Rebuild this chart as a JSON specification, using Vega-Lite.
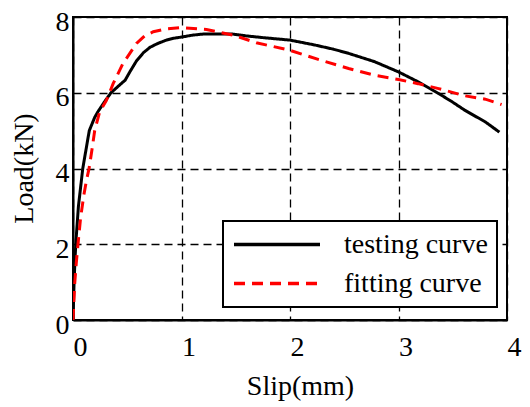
{
  "$schema": "https://vega.github.io/schema/vega-lite/v6.json",
  "width": 434,
  "height": 303,
  "autosize": {"type": "none"},
  "padding": {"left": 73, "top": 17, "right": 23, "bottom": 87},
  "background": "white",
  "data": {
    "values": [
      {"curve": "testing curve", "slip": 0, "load": 0},
      {"curve": "testing curve", "slip": 0.01, "load": 1.0},
      {"curve": "testing curve", "slip": 0.02, "load": 1.7},
      {"curve": "testing curve", "slip": 0.03, "load": 2.2},
      {"curve": "testing curve", "slip": 0.05, "load": 3.0},
      {"curve": "testing curve", "slip": 0.07, "load": 3.5},
      {"curve": "testing curve", "slip": 0.09, "load": 4.0},
      {"curve": "testing curve", "slip": 0.12, "load": 4.5},
      {"curve": "testing curve", "slip": 0.15, "load": 5.0},
      {"curve": "testing curve", "slip": 0.2, "load": 5.35},
      {"curve": "testing curve", "slip": 0.23, "load": 5.5},
      {"curve": "testing curve", "slip": 0.3, "load": 5.8},
      {"curve": "testing curve", "slip": 0.35, "load": 6.0},
      {"curve": "testing curve", "slip": 0.42, "load": 6.18},
      {"curve": "testing curve", "slip": 0.48, "load": 6.33},
      {"curve": "testing curve", "slip": 0.53, "load": 6.58},
      {"curve": "testing curve", "slip": 0.585, "load": 6.84},
      {"curve": "testing curve", "slip": 0.65, "load": 7.06},
      {"curve": "testing curve", "slip": 0.71, "load": 7.2},
      {"curve": "testing curve", "slip": 0.78, "load": 7.3},
      {"curve": "testing curve", "slip": 0.86, "load": 7.39},
      {"curve": "testing curve", "slip": 0.93, "load": 7.44},
      {"curve": "testing curve", "slip": 1.0, "load": 7.47},
      {"curve": "testing curve", "slip": 1.1, "load": 7.52},
      {"curve": "testing curve", "slip": 1.2, "load": 7.55},
      {"curve": "testing curve", "slip": 1.35, "load": 7.55},
      {"curve": "testing curve", "slip": 1.47, "load": 7.55},
      {"curve": "testing curve", "slip": 1.6, "load": 7.5},
      {"curve": "testing curve", "slip": 1.77, "load": 7.45},
      {"curve": "testing curve", "slip": 2.0, "load": 7.39},
      {"curve": "testing curve", "slip": 2.23, "load": 7.26},
      {"curve": "testing curve", "slip": 2.4, "load": 7.15},
      {"curve": "testing curve", "slip": 2.54, "load": 7.04},
      {"curve": "testing curve", "slip": 2.78, "load": 6.82},
      {"curve": "testing curve", "slip": 3.0, "load": 6.55},
      {"curve": "testing curve", "slip": 3.18, "load": 6.29},
      {"curve": "testing curve", "slip": 3.37, "load": 5.98},
      {"curve": "testing curve", "slip": 3.5, "load": 5.75},
      {"curve": "testing curve", "slip": 3.61, "load": 5.54},
      {"curve": "testing curve", "slip": 3.8, "load": 5.23},
      {"curve": "testing curve", "slip": 3.93, "load": 4.96},
      {"curve": "fitting curve", "slip": 0, "load": 0},
      {"curve": "fitting curve", "slip": 0.016, "load": 0.97},
      {"curve": "fitting curve", "slip": 0.03, "load": 1.5},
      {"curve": "fitting curve", "slip": 0.046, "load": 2.0},
      {"curve": "fitting curve", "slip": 0.07, "load": 2.7},
      {"curve": "fitting curve", "slip": 0.1, "load": 3.3},
      {"curve": "fitting curve", "slip": 0.125, "load": 3.7},
      {"curve": "fitting curve", "slip": 0.148, "load": 4.0},
      {"curve": "fitting curve", "slip": 0.175, "load": 4.5},
      {"curve": "fitting curve", "slip": 0.2, "load": 5.0},
      {"curve": "fitting curve", "slip": 0.246, "load": 5.5},
      {"curve": "fitting curve", "slip": 0.308, "load": 5.8},
      {"curve": "fitting curve", "slip": 0.37, "load": 6.24},
      {"curve": "fitting curve", "slip": 0.46, "load": 6.77},
      {"curve": "fitting curve", "slip": 0.585, "load": 7.3},
      {"curve": "fitting curve", "slip": 0.66, "load": 7.5},
      {"curve": "fitting curve", "slip": 0.74, "load": 7.61},
      {"curve": "fitting curve", "slip": 0.85, "load": 7.68},
      {"curve": "fitting curve", "slip": 1.0, "load": 7.72},
      {"curve": "fitting curve", "slip": 1.23, "load": 7.67},
      {"curve": "fitting curve", "slip": 1.48, "load": 7.52},
      {"curve": "fitting curve", "slip": 1.69, "load": 7.32},
      {"curve": "fitting curve", "slip": 2.0, "load": 7.12},
      {"curve": "fitting curve", "slip": 2.26, "load": 6.88},
      {"curve": "fitting curve", "slip": 2.54, "load": 6.64},
      {"curve": "fitting curve", "slip": 2.78, "load": 6.46},
      {"curve": "fitting curve", "slip": 3.0, "load": 6.35},
      {"curve": "fitting curve", "slip": 3.18, "load": 6.24},
      {"curve": "fitting curve", "slip": 3.37, "load": 6.11},
      {"curve": "fitting curve", "slip": 3.61, "load": 5.92},
      {"curve": "fitting curve", "slip": 3.8, "load": 5.83},
      {"curve": "fitting curve", "slip": 3.95, "load": 5.69}
    ]
  },
  "mark": {"type": "line", "strokeWidth": 3, "clip": true},
  "encoding": {
    "x": {
      "field": "slip",
      "type": "quantitative",
      "title": "Slip(mm)",
      "scale": {"domain": [0, 4], "nice": false, "zero": false},
      "axis": {
        "values": [0, 1, 2, 3, 4],
        "labelOffset": 7,
        "labelPadding": 13,
        "titleX": 227,
        "titleY": 74,
        "titleBaseline": "alphabetic"
      }
    },
    "y": {
      "field": "load",
      "type": "quantitative",
      "title": "Load(kN)",
      "scale": {"domain": [0, 8], "nice": false},
      "axis": {
        "values": [0, 2, 4, 6, 8],
        "labelOffset": 5,
        "labelPadding": 4,
        "labelBaseline": "middle",
        "titleX": -41,
        "titleY": 151,
        "titleAngle": 270,
        "titleBaseline": "alphabetic"
      }
    },
    "color": {
      "field": "curve",
      "type": "nominal",
      "title": null,
      "scale": {"domain": ["testing curve", "fitting curve"], "range": ["#000000", "#ff0000"]}
    },
    "strokeDash": {
      "field": "curve",
      "type": "nominal",
      "title": null,
      "scale": {"domain": ["testing curve", "fitting curve"], "range": [[1, 0], [11, 7]]}
    }
  },
  "config": {
    "view": {"stroke": "#000000", "strokeWidth": 2},
    "axis": {
      "labelFont": "Liberation Serif",
      "labelFontSize": 28,
      "labelColor": "#000000",
      "labelFlush": false,
      "labelOverlap": false,
      "titleFont": "Liberation Serif",
      "titleFontSize": 28,
      "titleFontWeight": "normal",
      "titleColor": "#000000",
      "domainColor": "#000000",
      "domainWidth": 2,
      "ticks": false,
      "grid": true,
      "gridColor": "#000000",
      "gridWidth": 1.3,
      "gridDash": [8, 5],
      "gridOpacity": 1
    },
    "legend": {
      "orient": "none",
      "legendX": 150,
      "legendY": 204,
      "direction": "vertical",
      "fillColor": "#ffffff",
      "strokeColor": "#000000",
      "strokeWidth": 2,
      "padding": 9,
      "clipHeight": 29,
      "symbolType": "stroke",
      "symbolSize": 7400,
      "symbolStrokeWidth": 3.5,
      "labelFont": "Liberation Serif",
      "labelFontSize": 28,
      "labelColor": "#000000",
      "labelOffset": 22,
      "labelLimit": 0,
      "rowPadding": 10
    }
  }
}
